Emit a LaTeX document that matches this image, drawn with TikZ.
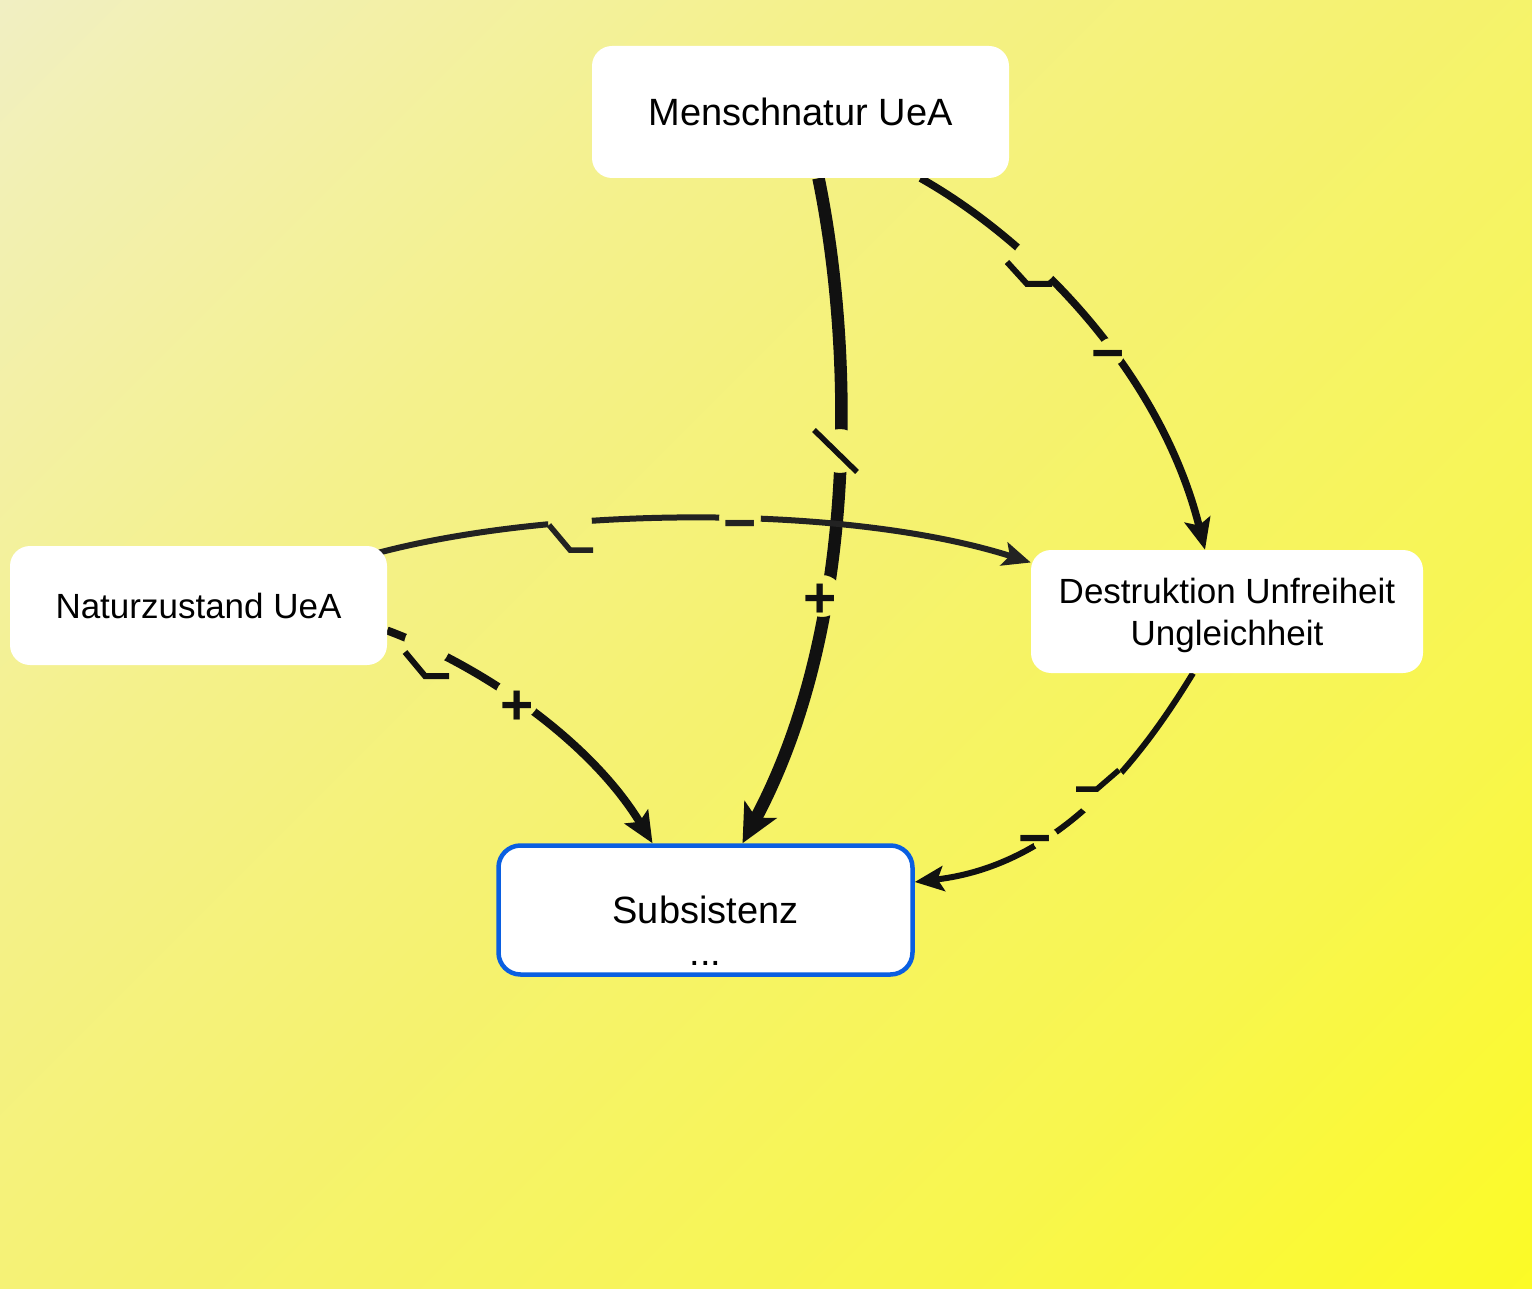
\documentclass[tikz,border=0pt]{standalone}
\usepackage{fontspec}
\setmainfont{Liberation Sans}
\usetikzlibrary{arrows.meta}
\pgfdeclarelayer{background}
\pgfdeclarelayer{edges}
\pgfsetlayers{background,edges,main}
\definecolor{bga}{HTML}{EEEEEE}
\definecolor{bgb}{HTML}{F0EED0}
\definecolor{bgc}{HTML}{F2F0B2}
\definecolor{bgd}{HTML}{F4F18C}
\definecolor{bge}{HTML}{F5F270}
\definecolor{bgf}{HTML}{F8F64E}
\definecolor{bgg}{HTML}{FFFF00}
\definecolor{ink}{HTML}{111111}
\definecolor{inkb}{HTML}{222222}
\definecolor{sblue}{RGB}{10,95,225}
\pgfdeclarehorizontalshading{bgshade}{100bp}{color(0bp)=(bga); color(10bp)=(bgb); color(20bp)=(bgc); color(35bp)=(bgd); color(50bp)=(bge); color(70bp)=(bgf); color(100bp)=(bgg)}
\begin{document}
\begin{tikzpicture}[x=1pt,y=-1pt,
  box/.style={fill=white, rounded corners=20pt, inner sep=0pt, align=center},
  bigfont/.style={font=\fontsize{38}{45}\selectfont},
  midfont/.style={font=\fontsize{35}{42}\selectfont},
  lnk/.style={line width=#1, color=ink},
  pol/.style={font=\fontsize{57}{60}\selectfont\bfseries, inner sep=0pt, anchor=base, text=ink},
  dmark/.style={line width=#1, color=ink, line join=miter, line cap=butt},
]
\useasboundingbox (0,0) rectangle (1532,1289);
\begin{pgfonlayer}{background}
\shade[shading=bgshade, shading angle=-45] (0,0) rectangle (1532,1289);
\end{pgfonlayer}

% nodes
\node[box, bigfont, minimum width=417pt, minimum height=132pt] (m) at (800.5,112) {Menschnatur UeA};
\node[box, midfont, minimum width=377pt, minimum height=119pt] (n) at (198.5,605.5) {Naturzustand UeA};
\node[box, minimum width=392pt, minimum height=123pt] (d) at (1227,611.5) {};
\node[midfont, align=center, inner sep=0pt] (dt) at ([yshift=-4pt]d.center) {Destruktion Unfreiheit\\Ungleichheit};
\node[box, draw=sblue, line width=4.5pt, rounded corners=22pt, minimum width=414pt, minimum height=129pt] (s) at (705.5,910) {};
\node[bigfont, anchor=base, inner sep=0pt] (st1) at (705.5,923) {Subsistenz};
\node[bigfont, anchor=base, inner sep=0pt] (st2) at (705.5,965) {...};

\begin{pgfonlayer}{edges}
\begin{scope}[even odd rule]
\clip (-10,-10) rectangle (1542,1299)
  (840,451) circle[radius=22]
  (822,596) circle[radius=21]
  (1035,262) circle[radius=23]
  (1111,352) circle[radius=14]
  (570,522) circle[radius=22]
  (740,518) circle[radius=21]
  (427,645) circle[radius=23]
  (517,698) circle[radius=22]
  (1101,790) circle[radius=27]
  (1046,840) circle[radius=13];
% Menschnatur -> Subsistenz
\draw[lnk=12.5pt, -{Stealth[length=38pt,width=36pt,inset=9pt]}]
  ([xshift=18pt]m.south) .. controls (852,340) and (862,620) .. ([xshift=37pt]s.north);
% Menschnatur -> Destruktion
\draw[lnk=7.5pt, -{Stealth[length=31pt,width=26pt,inset=6pt]}]
  ([xshift=120pt]m.south) .. controls (1030,240) and (1160,370) .. ([xshift=-22pt]d.north);
% Naturzustand -> Destruktion
\draw[lnk=6pt, color=inkb, -{Stealth[length=28pt,width=24pt,inset=6pt]}]
  ([xshift=-9pt,yshift=-7pt]n.north east) .. controls (560,505) and (850,505) .. ([yshift=49pt]d.west);
% Naturzustand -> Subsistenz
\draw[lnk=8pt, -{Stealth[length=31pt,width=27pt,inset=6pt]}]
  ([yshift=-25pt]n.east) .. controls (480,665) and (590,740) .. ([xshift=-53pt]s.north);
% Destruktion -> Subsistenz
\draw[lnk=6pt, -{Stealth[length=29pt,width=25pt,inset=6pt]}]
  ([xshift=-34pt]d.south) .. controls (1140,760) and (1060,865) .. ([yshift=28pt]s.east);
\end{scope}
% delay marks
\draw[dmark=5.5pt] (814,430) -- (857,472);
\draw[dmark=6pt] (1007,262) -- (1027,284) -- (1052,284);
\draw[dmark=5.5pt, color=inkb] (549,525) -- (570,550) -- (593,550);
\draw[dmark=6pt] (405,652) -- (425,676) -- (449,676);
\draw[dmark=5.5pt] (1119,770) -- (1097,789) -- (1076,789);
\end{pgfonlayer}

% polarity labels
\node[pol] (p1) at (820.5,617) {+};
\node[pol] (p2) at (1108,373) {−};
\node[pol, text=inkb] (p3) at (740,542.5) {−};
\node[pol] (p4) at (517,724) {+};
\node[pol] (p5) at (1035.5,857) {−};
\end{tikzpicture}
\end{document}
